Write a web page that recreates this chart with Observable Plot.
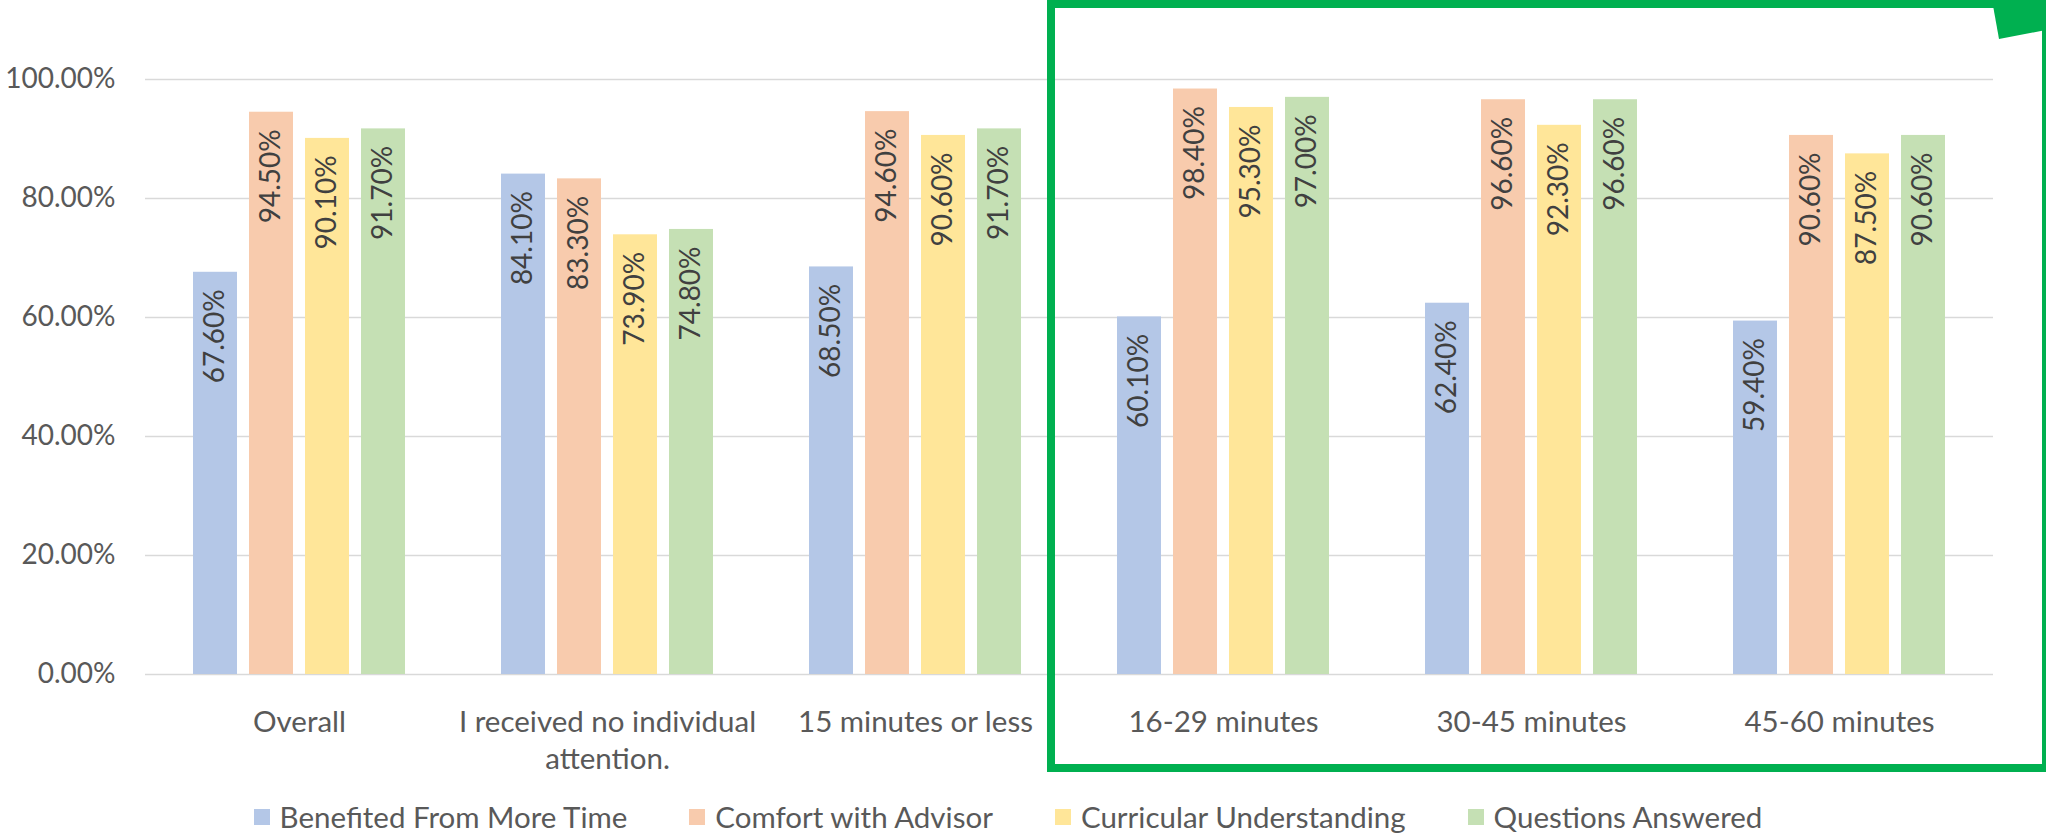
<!DOCTYPE html>
<html><head><meta charset="utf-8">
<script src="https://cdn.jsdelivr.net/npm/d3@7"></script>
<script src="https://cdn.jsdelivr.net/npm/@observablehq/plot@0.6"></script>
<style>
body{margin:0;background:#fff;overflow:hidden;font-family:Lato,sans-serif}
#wrap{position:relative;width:2046px;height:837px;overflow:hidden}
#chart{position:absolute;left:0;top:0}
#box{position:absolute;left:1047px;top:0;width:1003px;height:772px;border:8px solid #00b050;box-sizing:border-box;pointer-events:none}
#corner{position:absolute;left:0;top:0;pointer-events:none}
#legend{position:absolute;left:0;width:2016px;top:799px;display:flex;justify-content:center;gap:62px;font-size:29.5px;color:#595959;line-height:36px}
.item{display:flex;align-items:center;gap:10px}
.sw{width:16px;height:16px;display:inline-block}
</style></head>
<body><div id="wrap"><div id="chart"></div><div id="legend"></div><div id="box"></div><svg id="corner" width="2046" height="60"><polygon points="1992,0 2046,0 2046,30 1999,39" fill="#00b050"/></svg></div>
<script>
const categories = ["Overall","I received no individual attention.","15 minutes or less","16-29 minutes","30-45 minutes","45-60 minutes"];
const seriesNames = ["Benefited From More Time","Comfort with Advisor","Curricular Understanding","Questions Answered"];
const benefited = [67.6,84.1,68.5,60.1,62.4,59.4];
const comfort = [94.5,83.3,94.6,98.4,96.6,90.6];
const curricular = [90.1,73.9,90.6,95.3,92.3,87.5];
const questions = [91.7,74.8,91.7,97.0,96.6,90.6];
const colors = ["#b4c7e7","#f8cbad","#ffe699","#c5e0b4"];
const yTicks = [0,20,40,60,80,100];

const seriesValues = [benefited, comfort, curricular, questions];
const data = [];
categories.forEach((c, i) => seriesNames.forEach((s, j) => data.push({category: c, series: s, value: seriesValues[j][i]})));

const pct = d => d.toFixed(2) + "%";
const wrapLabel = d => d === "I received no individual attention." ? "I received no individual\nattention." : d;

const chart = Plot.plot({
  width: 2046, height: 780,
  marginLeft: 145, marginRight: 53, marginTop: 79, marginBottom: 106,
  style: {fontFamily: "Lato, sans-serif", fontSize: "28px", color: "#595959", background: "transparent"},
  fx: {domain: categories, padding: 0, label: null, axis: null},
  x: {domain: seriesNames, paddingInner: 0.2143, paddingOuter: 0.857, axis: null},
  y: {domain: [0, 100], axis: null},
  color: {domain: seriesNames, range: colors},
  marks: [
    Plot.gridY(yTicks, {stroke: "#d9d9d9", strokeOpacity: 1, strokeWidth: 1.5}),
    Plot.axisY(yTicks, {tickSize: 0, tickPadding: 30, tickFormat: pct, fill: "#595959", fontSize: 28, label: null}),
    Plot.axisFx({anchor: "bottom", tickSize: 0, tickPadding: 31, tickFormat: wrapLabel, lineHeight: 1.25, fontSize: 29.5, fill: "#595959", label: null}),
    Plot.barY(data, {fx: "category", x: "series", y: "value", fill: "series"}),
    Plot.text(data, {fx: "category", x: "series", y: "value", text: d => pct(d.value), rotate: -90, textAnchor: "end", dy: 17, fontSize: 28, fill: "#404040"})
  ]
});
document.getElementById("chart").appendChild(chart);

const legend = document.getElementById("legend");
seriesNames.forEach((s, i) => {
  const item = document.createElement("div");
  item.className = "item";
  item.innerHTML = `<span class="sw" style="background:${colors[i]}"></span><span>${s}</span>`;
  legend.appendChild(item);
});
</script>
</body></html>
